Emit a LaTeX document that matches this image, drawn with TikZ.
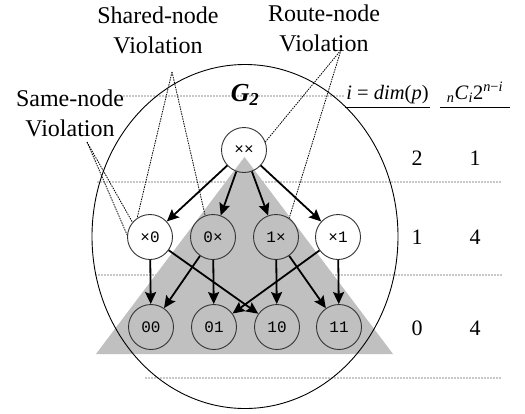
\documentclass[tikz,border=0pt]{standalone}
\usepackage{fontspec}
\setmainfont{Liberation Serif}
\newfontfamily\nodefont{Liberation Mono}
\usetikzlibrary{arrows.meta}
\definecolor{trigray}{RGB}{192,192,192}
\definecolor{guide}{RGB}{200,200,200}
\begin{document}
\begin{tikzpicture}[x=1pt,y=-1pt,
  vnode/.style={circle,draw=black!80,line width=0.9pt,minimum size=45pt,inner sep=0pt,font=\nodefont\fontsize{16}{16}\selectfont},
  edge/.style={line width=1.8pt,-{Stealth[length=12pt,width=11pt,inset=2pt]}},
  guideline/.style={draw=guide,line width=1.2pt,dash pattern=on 1.5pt off 1.5pt},
  callout/.style={line width=0.8pt,dash pattern=on 1.5pt off 1pt},
  lbl/.style={align=center,font=\fontsize{24}{30}\selectfont,inner sep=0pt},
  head/.style={font=\fontsize{20.5}{20.5}\selectfont,inner sep=0pt},
  num/.style={font=\fontsize{22}{22}\selectfont,inner sep=0pt}]
\useasboundingbox (0,0) rectangle (525,413);
\fill[white] (0,0) rectangle (525,413);
% guide lines
\draw[guideline] (123,96) -- (345,96);
\draw[guideline] (97,182) -- (502,182);
\draw[guideline] (95,275) -- (502,275);
\draw[guideline] (145,378) -- (502,378);
% triangle
\fill[trigray] (244.5,157) -- (96,354) -- (393,354) -- cycle;
% ellipse
\draw[line width=0.9pt] (245,236.5) ellipse [x radius=153, y radius=172];
% nodes
\node[vnode] (xx) at (244,150) {××};
\node[vnode] (x0) at (150,237) {×0};
\node[vnode] (0x) at (213,237) {0×};
\node[vnode] (1x) at (276,237) {1×};
\node[vnode] (x1) at (338,237) {×1};
\node[vnode] (00) at (151,327) {00};
\node[vnode] (01) at (214,327) {01};
\node[vnode] (10) at (277,327) {10};
\node[vnode] (11) at (339,327) {11};
% edges
\foreach \t in {x0,0x,1x,x1} \draw[edge] (xx) -- (\t);
\draw[edge] (x0) -- (00);
\draw[edge] (x0) -- (10);
\draw[edge] (0x) -- (00);
\draw[edge] (0x) -- (01);
\draw[edge] (1x) -- (10);
\draw[edge] (1x) -- (11);
\draw[edge] (x1) -- (01);
\draw[edge] (x1) -- (11);
% G2
\node[inner sep=0pt,font=\fontsize{26}{26}\selectfont\bfseries\itshape] (g2) at (245,95) {G\textsubscript{2}};
% labels
\node[lbl] (shared) at (158,30) {Shared-node\\Violation};
\node[lbl] (route) at (324,28) {Route-node\\Violation};
\node[lbl] (same) at (70,113) {Same-node\\Violation};
\coordinate (sharedTip) at (172,72);
\coordinate (routeTip) at (341,50);
\coordinate (sameTip) at (87,142);
\draw[callout] (sharedTip) -- (x0.124);
\draw[callout] (sharedTip) -- (0x.110);
\draw[callout] (routeTip) -- (xx.21);
\draw[callout] (routeTip) -- (1x.55);
\draw[callout] (sameTip) -- (x0.140);
\draw[callout] (sameTip) -- (x0.175);
% table
\node[head,anchor=base] (h1) at (387.5,99) {\textit{i} = \textit{dim}(\textit{p})};
\node[head,anchor=base] (h2) at (475,99) {\textsubscript{\textit{n}}\textit{C}\textsubscript{\textit{i}}2\textsuperscript{\textit{n}−\textit{i}}};
\draw[line width=0.9pt] (345,107) -- (430,107);
\draw[line width=0.9pt] (440,107) -- (510,107);
\node[num] (d2) at (417,158) {2};
\node[num] (d1) at (417,237) {1};
\node[num] (d0) at (417,328) {0};
\node[num] (c2) at (475,158) {1};
\node[num] (c1) at (475,237) {4};
\node[num] (c0) at (475,328) {4};
\end{tikzpicture}
\end{document}
